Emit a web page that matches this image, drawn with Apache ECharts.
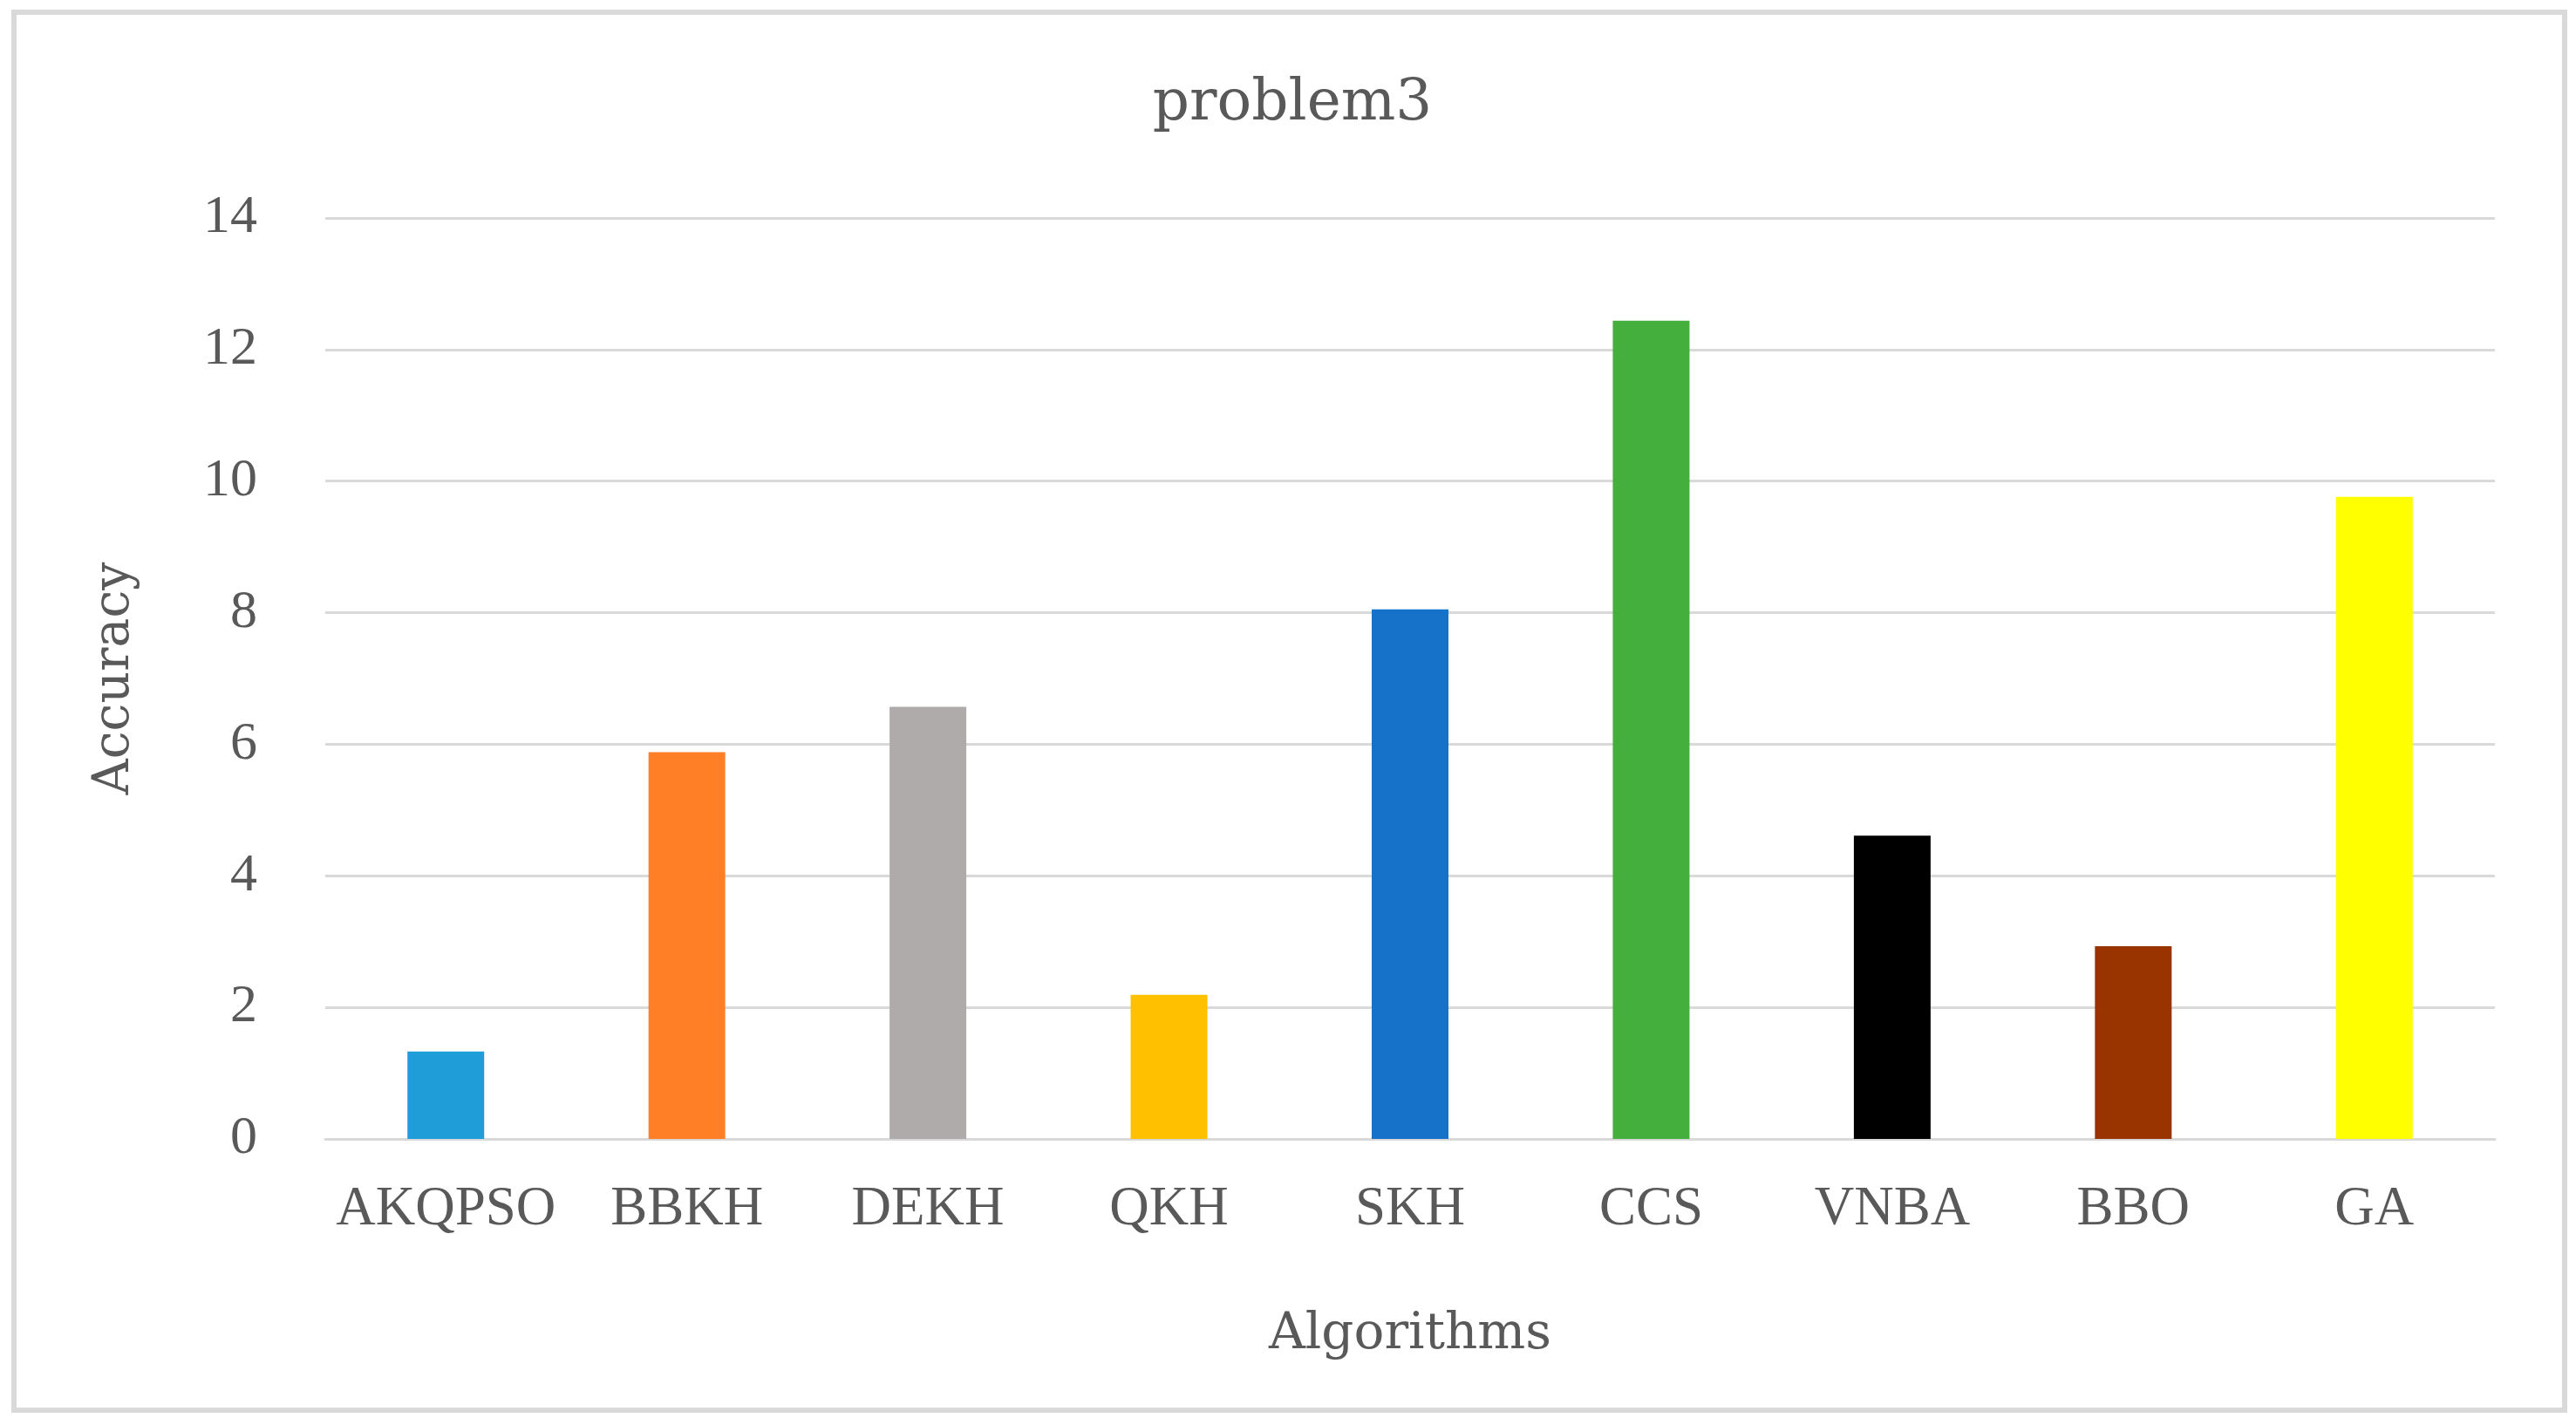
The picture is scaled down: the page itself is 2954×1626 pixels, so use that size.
<!DOCTYPE html>
<html>
<head>
<meta charset="utf-8">
<script src="https://cdn.jsdelivr.net/npm/echarts@6/dist/echarts.min.js"></script>
<style>
html,body{margin:0;padding:0;background:#fff;}
#c{width:2954px;height:1626px;}
</style>
</head>
<body>
<div id="c"></div>
<script>
const categories = ['AKQPSO','BBKH','DEKH','QKH','SKH','CCS','VNBA','BBO','GA'];
const values = [1.33, 5.88, 6.57, 2.19, 8.05, 12.44, 4.61, 2.93, 9.76];
const barColors = ['#1E9DD8','#FF7F27','#AEABAA','#FFC000','#1672C9','#44AF3C','#000000','#993300','#FFFF00'];
const yTicks = [0, 2, 4, 6, 8, 10, 12, 14];

const chart = echarts.init(document.getElementById('c'));
const textColor = '#595959';
chart.setOption({
  animation: false,
  backgroundColor: '#ffffff',
  title: {
    text: 'problem3',
    left: 1477,
    top: 82,
    textAlign: 'center',
    textStyle: { fontFamily: 'DejaVu Serif', fontWeight: 'normal', fontSize: 66, color: textColor }
  },
  graphic: [{
    type: 'rect',
    shape: { x: 16, y: 14, width: 2925, height: 1603 },
    style: { fill: 'none', stroke: '#D9D9D9', lineWidth: 6 },
    silent: true
  }],
  grid: { left: 373, right: 93, top: 250, bottom: 320, containLabel: false },
  xAxis: {
    type: 'category',
    data: categories,
    name: 'Algorithms',
    nameLocation: 'middle',
    nameGap: 196,
    nameTextStyle: { fontFamily: 'DejaVu Serif', fontSize: 58, color: textColor },
    axisLine: { show: true, lineStyle: { color: '#D9D9D9', width: 3 } },
    axisTick: { show: false },
    axisLabel: { fontFamily: 'Liberation Serif', fontSize: 63, color: textColor, margin: 50, interval: 0 }
  },
  yAxis: {
    type: 'value',
    min: yTicks[0],
    max: yTicks[yTicks.length - 1],
    interval: 2,
    name: 'Accuracy',
    nameLocation: 'middle',
    nameGap: 212,
    nameRotate: 90,
    nameTextStyle: { fontFamily: 'DejaVu Serif', fontSize: 57, color: textColor },
    axisLine: { show: false },
    axisTick: { show: false },
    splitLine: { lineStyle: { color: '#D9D9D9', width: 3 } },
    axisLabel: { fontFamily: 'Liberation Serif', fontSize: 62, color: textColor, margin: 78 }
  },
  series: [{
    type: 'bar',
    barWidth: 88,
    data: values.map((v, i) => ({ value: v, itemStyle: { color: barColors[i] } }))
  }]
});
</script>
</body>
</html>
